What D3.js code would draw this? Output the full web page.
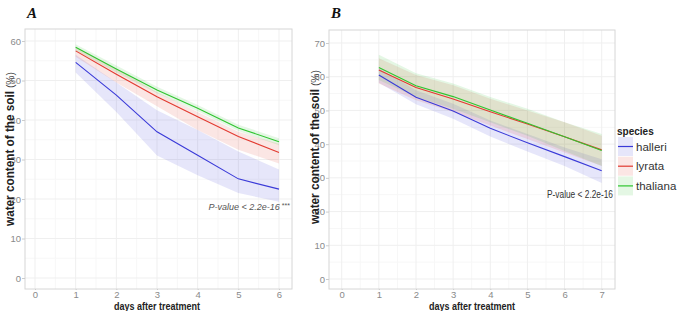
<!DOCTYPE html>
<html>
<head>
<meta charset="utf-8">
<script src="https://cdn.jsdelivr.net/npm/d3@7"></script>
<style>
  body { margin: 0; background: #fff; }
  svg { font-family: "Liberation Sans", Arial, sans-serif; }
</style>
</head>
<body>
<svg id="chart" width="677" height="311"></svg>
<script>
// panel A: days 1..6
const daysA = [1, 2, 3, 4, 5, 6];
const halleriA = [54.6, 46.3, 37.0, 31.1, 25.1, 22.5];
const halleriALo = [52.0, 42.0, 31.0, 26.0, 21.5, 19.3];
const halleriAHi = [56.5, 49.5, 42.5, 37.5, 32.0, 27.5];
const lyrataA = [57.5, 51.6, 45.9, 40.8, 35.8, 31.8];
const lyrataALo = [56.0, 49.5, 43.5, 37.5, 32.5, 29.0];
const lyrataAHi = [58.5, 53.0, 47.0, 42.0, 37.0, 34.0];
const thalianaA = [58.4, 52.9, 47.6, 43.0, 38.0, 34.5];
const thalianaALo = [57.6, 52.0, 46.8, 42.2, 37.2, 33.6];
const thalianaAHi = [59.2, 53.8, 48.4, 43.8, 38.8, 35.4];

// panel B: days 1..7
const daysB = [1, 2, 3, 4, 5, 6, 7];
const halleriB = [60.5, 53.9, 49.8, 44.7, 40.4, 36.3, 32.1];
const halleriBLo = [58.2, 51.8, 47.5, 42.3, 37.8, 33.5, 28.5];
const halleriBHi = [62.5, 56.0, 52.0, 47.0, 43.0, 39.0, 35.5];
const lyrataB = [62.0, 56.8, 53.4, 49.6, 46.0, 42.2, 38.3];
const lyrataBLo = [58.0, 53.0, 49.5, 45.5, 41.5, 37.5, 33.5];
const lyrataBHi = [65.5, 60.5, 57.5, 53.5, 50.0, 46.5, 42.5];
const thalianaB = [62.7, 57.3, 54.1, 50.1, 46.2, 42.2, 38.1];
const thalianaBLo = [59.0, 54.0, 50.5, 46.5, 42.5, 38.0, 33.5];
const thalianaBHi = [66.5, 61.0, 58.0, 54.0, 50.5, 46.5, 43.0];

const species = ["halleri", "lyrata", "thaliana"];
const colors = ["#3a3ad8", "#e23a30", "#2fc42f"];

const yTicksA = [0, 10, 20, 30, 40, 50, 60];
const yTicksB = [0, 10, 20, 30, 40, 50, 60, 70];
const xTicksA = [0, 1, 2, 3, 4, 5, 6];
const xTicksB = [0, 1, 2, 3, 4, 5, 6, 7];

const svg = d3.select("#chart");

function panel(cfg) {
  const x = d3.scaleLinear().domain(cfg.xDomain).range(cfg.xRange);
  const y = d3.scaleLinear().domain(cfg.yDomain).range(cfg.yRange);
  const f = cfg.frame;
  const g = svg.append("g");

  // minor + major grid
  const minorX = cfg.xTicks.slice(0, -1).map(d => d + 0.5);
  const minorY = cfg.yTicks.slice(0, -1).map(d => d + 5);
  g.selectAll(".mx").data(minorX).join("line")
    .attr("x1", d => x(d)).attr("x2", d => x(d))
    .attr("y1", f.top).attr("y2", f.bottom)
    .attr("stroke", "#f7f7f7");
  g.selectAll(".my").data(minorY).join("line")
    .attr("x1", f.left).attr("x2", f.right)
    .attr("y1", d => y(d)).attr("y2", d => y(d))
    .attr("stroke", "#f7f7f7");
  g.selectAll(".gx").data(cfg.xTicks).join("line")
    .attr("x1", d => x(d)).attr("x2", d => x(d))
    .attr("y1", f.top).attr("y2", f.bottom)
    .attr("stroke", "#efefef");
  g.selectAll(".gy").data(cfg.yTicks).join("line")
    .attr("x1", f.left).attr("x2", f.right)
    .attr("y1", d => y(d)).attr("y2", d => y(d))
    .attr("stroke", "#efefef");

  const series = species.map((s, i) => ({
    name: s, color: colors[i],
    pts: cfg.days.map((d, j) => ({ x: d, v: cfg.mean[i][j], lo: cfg.lo[i][j], hi: cfg.hi[i][j] }))
  }));

  const area = d3.area().x(d => x(d.x)).y0(d => y(d.lo)).y1(d => y(d.hi));
  const line = d3.line().x(d => x(d.x)).y(d => y(d.v));

  g.selectAll(".rib").data(series).join("path")
    .attr("d", d => area(d.pts))
    .attr("fill", d => d.color)
    .attr("fill-opacity", 0.13);
  g.selectAll(".ln").data(series).join("path")
    .attr("d", d => line(d.pts))
    .attr("fill", "none")
    .attr("stroke", d => d.color)
    .attr("stroke-width", 1.1);

  // frame
  g.append("rect")
    .attr("x", f.left).attr("y", f.top)
    .attr("width", f.right - f.left).attr("height", f.bottom - f.top)
    .attr("fill", "none").attr("stroke", "#d6d6d6");

  const ya = g.append("g").attr("transform", `translate(${f.left},0)`)
    .call(d3.axisLeft(y).tickValues(cfg.yTicks).tickFormat(d3.format("d")).tickSize(3).tickPadding(1));
  const xa = g.append("g").attr("transform", `translate(0,${f.bottom})`)
    .call(d3.axisBottom(x).tickValues(cfg.xTicks).tickFormat(d3.format("d")).tickSize(1).tickPadding(1));
  [ya, xa].forEach(a => {
    a.select(".domain").remove();
    a.selectAll("line").attr("stroke", "#cccccc");
    a.selectAll("text").attr("fill", "#8a8a8a").attr("font-size", 9.5)
      .attr("font-family", "'Liberation Sans', Arial, sans-serif");
  });

  // axis titles
  svg.append("text")
    .attr("x", cfg.xTitle[0]).attr("y", cfg.xTitle[1])
    .attr("text-anchor", "middle")
    .attr("font-size", 11.5).attr("font-weight", "bold").attr("fill", "#222")
    .attr("textLength", 86).attr("lengthAdjust", "spacingAndGlyphs")
    .text("days after treatment");

  const yt = svg.append("text")
    .attr("transform", `translate(${cfg.yTitle[0]},${cfg.yTitle[1]}) rotate(-90)`)
    .attr("text-anchor", "middle")
    .attr("font-size", 12.5).attr("fill", "#222")
    .attr("textLength", 154).attr("lengthAdjust", "spacingAndGlyphs");
  yt.append("tspan").attr("font-weight", "bold").text("water content of the soil");
  yt.append("tspan").attr("font-size", 11).attr("fill", "#444").text(" (%)");

  // panel letter
  svg.append("text")
    .attr("x", cfg.letter[0]).attr("y", cfg.letter[1])
    .attr("font-family", "'Liberation Serif', 'Times New Roman', serif")
    .attr("font-size", 15).attr("font-weight", "bold").attr("font-style", "italic")
    .attr("fill", "#111")
    .text(cfg.letterText);

  return { x, y };
}

panel({
  days: daysA,
  mean: [halleriA, lyrataA, thalianaA],
  lo: [halleriALo, lyrataALo, thalianaALo],
  hi: [halleriAHi, lyrataAHi, thalianaAHi],
  xDomain: [0, 6], xRange: [35, 279],
  yDomain: [0, 60], yRange: [278, 41],
  xTicks: xTicksA, yTicks: yTicksA,
  frame: { left: 25, right: 292, top: 29, bottom: 289 },
  xTitle: [157, 309.5], yTitle: [14, 149],
  letter: [27, 18], letterText: "A"
});

panel({
  days: daysB,
  mean: [halleriB, lyrataB, thalianaB],
  lo: [halleriBLo, lyrataBLo, thalianaBLo],
  hi: [halleriBHi, lyrataBHi, thalianaBHi],
  xDomain: [0, 7], xRange: [341.7, 601.7],
  yDomain: [0, 70], yRange: [279, 43],
  xTicks: xTicksB, yTicks: yTicksB,
  frame: { left: 329, right: 615, top: 30, bottom: 289 },
  xTitle: [472, 309.5], yTitle: [319, 147],
  letter: [331, 18], letterText: "B"
});

// p-value annotations
const pa = svg.append("text")
  .attr("x", 290).attr("y", 210).attr("text-anchor", "end")
  .attr("fill", "#555");
pa.append("tspan").attr("font-size", 9).attr("font-style", "italic").text("P-value < 2.2e-16");
pa.append("tspan").attr("font-size", 7).attr("dx", 2).attr("dy", -2).text("***");

svg.append("text")
  .attr("x", 613).attr("y", 198).attr("text-anchor", "end")
  .attr("font-size", 10).attr("fill", "#333")
  .attr("textLength", 66).attr("lengthAdjust", "spacingAndGlyphs")
  .text("P-value  < 2.2e-16");

// legend
const legend = svg.append("g").attr("transform", "translate(617,0)");
legend.append("text")
  .attr("x", 0).attr("y", 135)
  .attr("font-size", 10).attr("font-weight", "bold").attr("fill", "#222")
  .text("species");
const items = legend.selectAll(".item").data(species).join("g")
  .attr("transform", (d, i) => `translate(0,${137 + i * 19.7})`);
items.append("rect")
  .attr("x", 1).attr("y", 0).attr("width", 15).attr("height", 19)
  .attr("fill", (d, i) => colors[i]).attr("fill-opacity", 0.13);
items.append("line")
  .attr("x1", 1).attr("x2", 16).attr("y1", 9.5).attr("y2", 9.5)
  .attr("stroke", (d, i) => colors[i]).attr("stroke-width", 1.2);
items.append("text")
  .attr("x", 19).attr("y", 13.5)
  .attr("font-size", 11.5).attr("fill", "#333")
  .text(d => d);
</script>
</body>
</html>
